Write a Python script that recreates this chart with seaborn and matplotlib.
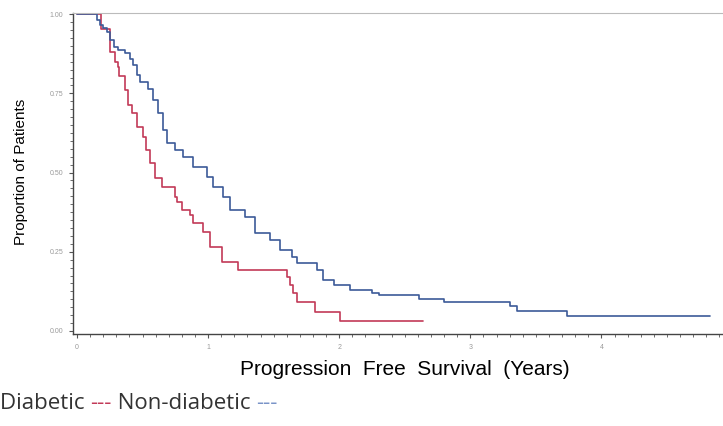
import numpy as np
import pandas as pd
import matplotlib
matplotlib.use("Agg")
import matplotlib.pyplot as plt
from matplotlib.ticker import MultipleLocator
import seaborn as sns

# Kaplan-Meier step points (time in years, survival after the drop)
diabetic_years = [0, 0.18, 0.25, 0.29, 0.31, 0.32, 0.37, 0.39, 0.42, 0.455, 0.505, 0.53,
                  0.557, 0.595, 0.645, 0.748, 0.76, 0.80, 0.863, 0.888, 0.964, 1.015,
                  1.105, 1.23, 1.60, 1.626, 1.65, 1.68, 1.817, 2.008, 2.64]
diabetic_prop = [1.0, 0.953, 0.88, 0.85, 0.834, 0.804, 0.762, 0.713, 0.687, 0.645, 0.613,
                 0.571, 0.529, 0.482, 0.455, 0.424, 0.408, 0.382, 0.366, 0.34, 0.313,
                 0.266, 0.219, 0.192, 0.171, 0.145, 0.119, 0.092, 0.061, 0.032, 0.032]

nondiabetic_years = [0, 0.15, 0.176, 0.20, 0.23, 0.25, 0.28, 0.315, 0.366, 0.405, 0.43,
                     0.455, 0.48, 0.544, 0.583, 0.62, 0.659, 0.685, 0.748, 0.811, 0.888,
                     0.99, 1.04, 1.117, 1.168, 1.282, 1.36, 1.473, 1.55, 1.64, 1.68, 1.83,
                     1.88, 1.957, 2.084, 2.25, 2.30, 2.606, 2.796, 3.305, 3.356, 3.74, 4.83]
nondiabetic_prop = [1.0, 0.98, 0.965, 0.955, 0.944, 0.918, 0.897, 0.886, 0.876, 0.86, 0.839,
                    0.808, 0.786, 0.765, 0.729, 0.687, 0.634, 0.592, 0.571, 0.55, 0.518,
                    0.487, 0.455, 0.424, 0.382, 0.36, 0.308, 0.287, 0.255, 0.234, 0.213,
                    0.192, 0.161, 0.145, 0.129, 0.119, 0.114, 0.10, 0.092, 0.079, 0.063,
                    0.047, 0.047]

x_ticks = [0, 1, 2, 3, 4]
y_ticks = [0.0, 0.25, 0.5, 0.75, 1.0]

df = pd.concat([
    pd.DataFrame({"years": diabetic_years, "prop": diabetic_prop, "group": "Diabetic"}),
    pd.DataFrame({"years": nondiabetic_years, "prop": nondiabetic_prop, "group": "Non-diabetic"}),
], ignore_index=True)

red = "#c23a58"
blue = "#3c5a98"

sns.set_style("white")
plt.rcParams["font.family"] = ["Liberation Sans", "DejaVu Sans"]

fig = plt.figure(figsize=(7.23, 4.26), dpi=100)
ax = fig.add_axes([0.101, 0.216, 0.897, 0.753])

sns.lineplot(data=df, x="years", y="prop", hue="group", estimator=None, sort=False,
             drawstyle="steps-post", palette={"Diabetic": red, "Non-diabetic": blue},
             linewidth=1.2, legend=False, ax=ax)

ax.set_xlim(-0.03, 4.916)
ax.set_ylim(-0.0095, 1.003)
ax.set_xticks(x_ticks)
ax.set_xticklabels([str(t) for t in x_ticks])
ax.set_yticks(y_ticks)
ax.set_yticklabels([f"{t:.2f}" for t in y_ticks])
ax.xaxis.set_minor_locator(MultipleLocator(0.1))
ax.yaxis.set_minor_locator(MultipleLocator(0.025))
ax.tick_params(which="major", length=3, width=0.8, color="#555555", labelsize=5,
               labelcolor="#9a9a9a", direction="out", left=True, bottom=True, pad=4)
ax.tick_params(which="minor", length=2, width=0.6, color="#555555", direction="out",
               left=True, bottom=True)

for side in ["left", "bottom"]:
    ax.spines[side].set_color("#444444")
    ax.spines[side].set_linewidth(1.0)
ax.spines["top"].set_color("#bbbbbb")
ax.spines["top"].set_linewidth(0.8)
ax.spines["right"].set_visible(False)

ax.set_xlabel("Progression  Free  Survival  (Years)", fontsize=15, color="black")
ax.xaxis.set_label_coords(0.511, -0.08)
ax.set_ylabel("Proportion of Patients", fontsize=11, color="black")
ax.yaxis.set_label_coords(-0.07, 0.505)

# legend line under the plot, coloured dashes
txt_kw = dict(fontsize=16, family=["Open Sans", "DejaVu Sans"], va="bottom")
t1 = fig.text(0.0, 1 - 414 / 426, "Diabetic ", color="#333333", **txt_kw)
t2 = ax.annotate("---", xy=(1, 0), xycoords=t1, color=red, **txt_kw)
t3 = ax.annotate(" Non-diabetic ", xy=(1, 0), xycoords=t2, color="#333333", **txt_kw)
ax.annotate("---", xy=(1, 0), xycoords=t3, color="#7a94c8", **txt_kw)

fig.savefig("out.png", dpi=100)
